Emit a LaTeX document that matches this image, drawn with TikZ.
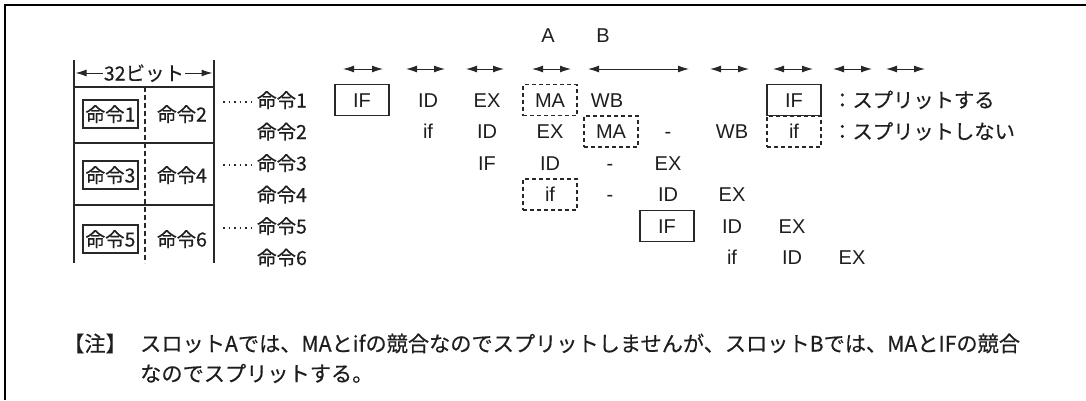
\documentclass[tikz,border=0pt]{standalone}
\usepackage{fontspec}
\setmainfont{Liberation Sans}
\newfontfamily\jp[FakeBold=0.35]{Noto Sans CJK JP}
\usetikzlibrary{arrows.meta}
\definecolor{txt}{RGB}{30,30,30}
\definecolor{ln}{RGB}{40,40,40}
\begin{document}
\begin{tikzpicture}[x=1pt,y=-1pt,
  every node/.style={inner sep=0pt, text=txt},
  lat/.style={font=\fontsize{20}{24}\selectfont, text height=14.3pt, text depth=0pt},
  ja/.style={font=\jp\fontsize{19.5}{24}\selectfont, text height=15pt, text depth=0pt},
  note/.style={font=\jp\fontsize{21.2}{24}\selectfont, anchor=west, text height=15pt, text depth=0pt},
  legend/.style={font=\jp\fontsize{20.3}{24}\selectfont, anchor=west, text height=15pt, text depth=0pt},
  sbox/.style={draw=ln, line width=1.2pt, minimum width=54pt, minimum height=31pt},
  dbox/.style={draw=ln, line width=1.1pt, dash pattern=on 4pt off 3pt, minimum width=54pt, minimum height=31pt},
  tbox/.style={draw=ln, line width=1.3pt, inner xsep=2.5pt, minimum height=28pt},
  dim/.style={draw=ln, line width=1pt, {Latex[length=11pt,width=7pt]}-{Latex[length=11pt,width=7pt]}},
  half/.style={draw=ln, line width=1pt, -{Latex[length=11pt,width=7pt]}},
  rule/.style={draw=ln, line width=1.1pt},
  leader/.style={draw=ln, line width=1.5pt, dash pattern=on 1.5pt off 4pt},
]
\useasboundingbox (0,0) rectangle (1086,400);
% frame (top and left only)
\draw[line width=2.2pt, black] (5,400) -- (5,5) -- (1086,5);

% ---------- left table ----------
\draw[rule] (74,60) -- (74,263);
\draw[rule] (214,60) -- (214,263);
\draw[rule] (74,87) -- (214,87);
\draw[rule] (74,143) -- (214,143);
\draw[rule] (74,205) -- (214,205);
\draw[draw=ln, line width=1.1pt, dash pattern=on 5pt off 3pt] (145,87) -- (145,263);

\node[ja] (bits) at (144,73) {32ビット};
\coordinate (bl) at (75.5,73);
\coordinate (br) at (212.5,73);
\draw[half] (bits.west) ++(-1,0) -- (bl);
\draw[half] (bits.east) ++(1,0) -- (br);

\node[ja, tbox] (t1) at (110.5,114) {命令1};
\node[ja] (t2) at (182,114) {命令2};
\node[ja, tbox] (t3) at (110.5,175) {命令3};
\node[ja] (t4) at (182,175) {命令4};
\node[ja, tbox] (t5) at (110.5,239) {命令5};
\node[ja] (t6) at (182,239) {命令6};

% ---------- instruction labels ----------
\node[ja] (i1) at (282,100) {命令1};
\node[ja] (i2) at (282,131.5) {命令2};
\node[ja] (i3) at (282,163) {命令3};
\node[ja] (i4) at (282,194.5) {命令4};
\node[ja] (i5) at (282,226) {命令5};
\node[ja] (i6) at (282,257.5) {命令6};
\coordinate (d1) at (223,102);
\coordinate (d3) at (223,165);
\coordinate (d5) at (223,228);
\draw[leader] (d1) -- ++(28,0);
\draw[leader] (d3) -- ++(28,0);
\draw[leader] (d5) -- ++(28,0);

% ---------- slot arrows ----------
\node[lat] (A) at (548,35) {A};
\node[lat] (B) at (603,35) {B};
\foreach \a/\b [count=\k] in {343/383, 406/445, 466/504, 532/571, 588/689, 710/749, 773/813, 833/872, 886/925}{
  \coordinate (s\k a) at (\a,69);
  \coordinate (s\k b) at (\b,69);
  \draw[dim] (s\k a) -- (s\k b);
}

% ---------- pipeline ----------
% row 1
\node[lat, sbox] (r1IF) at (362,100) {IF};
\node[lat] (r1ID) at (428,100) {ID};
\node[lat] (r1EX) at (487,100) {EX};
\node[lat, dbox] (r1MA) at (550,100) {MA};
\node[lat] (r1WB) at (607,100) {WB};
% row 2
\node[lat] (r2if) at (428,131.5) {if};
\node[lat] (r2ID) at (487,131.5) {ID};
\node[lat] (r2EX) at (550,131.5) {EX};
\node[lat, dbox] (r2MA) at (611,131.5) {MA};
\node[lat] (r2d) at (668,131.5) {-};
\node[lat] (r2WB) at (732,131.5) {WB};
% row 3
\node[lat] (r3IF) at (487,163) {IF};
\node[lat] (r3ID) at (550,163) {ID};
\node[lat] (r3d) at (610,163) {-};
\node[lat] (r3EX) at (668,163) {EX};
% row 4
\node[lat, dbox] (r4if) at (550,194.5) {if};
\node[lat] (r4d) at (610,194.5) {-};
\node[lat] (r4ID) at (668,194.5) {ID};
\node[lat] (r4EX) at (732,194.5) {EX};
% row 5
\node[lat, sbox] (r5IF) at (667,226) {IF};
\node[lat] (r5ID) at (732,226) {ID};
\node[lat] (r5EX) at (792,226) {EX};
% row 6
\node[lat] (r6if) at (732,257.5) {if};
\node[lat] (r6ID) at (792,257.5) {ID};
\node[lat] (r6EX) at (852,257.5) {EX};

% ---------- legend ----------
\node[lat, sbox] (lgIF) at (794,100) {IF};
\node[lat, dbox] (lgif) at (794,131.5) {if};
\node[legend] (lg1) at (832,100) {：スプリットする};
\node[legend] (lg2) at (832,131.5) {：スプリットしない};

% ---------- note ----------
\node[note, anchor=east] (nh) at (127,344) {【注】};
\node[note] (n1) at (140,344) {スロットAでは、MAとifの競合なのでスプリットしませんが、スロットBでは、MAとIFの競合};
\node[note] (n2) at (140,374) {なのでスプリットする。};
\end{tikzpicture}
\end{document}
